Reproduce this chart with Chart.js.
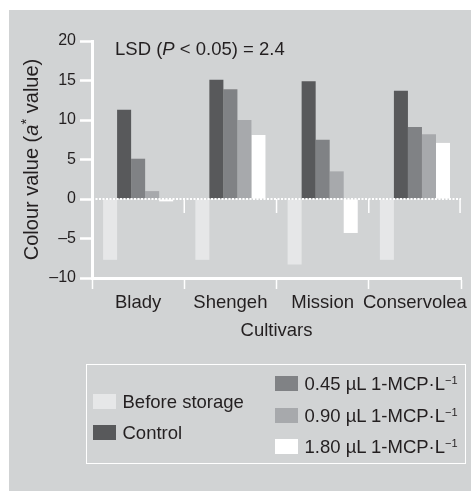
<!DOCTYPE html>
<html>
<head>
<meta charset="utf-8">
<script src="https://cdn.jsdelivr.net/npm/chart.js@4.4.1/dist/chart.umd.min.js"></script>
<style>
  html, body { margin: 0; padding: 0; background: #fff; }
  #wrap { position: relative; width: 471px; height: 491px; font-family: 'Liberation Sans', Arial, sans-serif; color: #231f20; }
  #chart { position: absolute; left: 0; top: 0; }
  #legend { position: absolute; left: 86px; top: 364px; width: 378px; height: 98px; border: 1.5px solid #fff; }
  .item { position: absolute; display: flex; align-items: center; height: 21px; line-height: 21px; font-size: 18.5px; white-space: nowrap; }
  .sw { width: 23px; height: 15px; margin-right: 7px; flex: none; }
  .item sup { font-size: 11px; line-height: 0; vertical-align: 6px; }
</style>
</head>
<body>
<div id="wrap">
  <canvas id="chart" width="471" height="491"></canvas>
  <div id="legend"></div>
</div>
<script>
// ── data ──────────────────────────────────────────────
const categories = ['Blady', 'Shengeh', 'Mission', 'Conservolea'];
const beforeStorage = [-7.7, -7.7, -8.3, -7.7];
const control       = [11.3, 15.1, 14.9, 13.7];
const mcp045        = [5.1, 13.9, 7.5, 9.1];
const mcp090        = [1.0, 10.0, 3.5, 8.2];
const mcp180        = [-0.3, 8.1, -4.3, 7.1];
const seriesLabels  = ['Before storage', 'Control', '0.45 µL 1-MCP·L', '0.90 µL 1-MCP·L', '1.80 µL 1-MCP·L'];
const yTicks        = [-10, -5, 0, 5, 10, 15, 20];
const lsdText       = ['LSD (', 'P', ' < 0.05) = 2.4'];

// ── styles ────────────────────────────────────────────
const PANEL = '#d1d3d4';
const INK = '#231f20';
const FONT = "'Liberation Sans', Arial, sans-serif";
const SERIES_COLORS = ['#e6e7e8', '#58595b', '#808285', '#a7a9ac', '#ffffff'];

const seriesData = [beforeStorage, control, mcp045, mcp090, mcp180];

// Panel background, dotted zero line, little separators, free text
const panelPlugin = {
  id: 'panel',
  beforeDraw(chart) {
    const c = chart.ctx;
    c.save();
    c.fillStyle = '#fff';
    c.fillRect(0, 0, chart.width, chart.height);
    c.fillStyle = PANEL;
    c.fillRect(9, 10, chart.width - 9, chart.height - 10);
    c.restore();
  },
  afterDatasetsDraw(chart) {
    const { ctx, chartArea, scales: { x, y } } = chart;
    const y0 = y.getPixelForValue(0);
    ctx.save();
    ctx.strokeStyle = '#fff';
    ctx.lineWidth = 2;
    ctx.setLineDash([2, 1.5]);
    ctx.beginPath();
    ctx.moveTo(chartArea.left, y0);
    ctx.lineTo(chartArea.right, y0);
    ctx.stroke();
    ctx.setLineDash([]);
    ctx.lineWidth = 1.5;
    for (let i = 1; i <= categories.length; i++) {
      const px = i < categories.length
        ? (x.getPixelForTick(i - 1) + x.getPixelForTick(i)) / 2
        : chartArea.right - 1;
      ctx.beginPath();
      ctx.moveTo(px, y0);
      ctx.lineTo(px, y0 + 14);
      ctx.stroke();
    }
    ctx.restore();
  },
  afterDraw(chart) {
    const { ctx, chartArea } = chart;
    ctx.save();
    ctx.fillStyle = INK;
    ctx.textBaseline = 'middle';

    // LSD note
    let tx = chartArea.left + 23;
    const ty = chartArea.top + 9;
    const fonts = [`18.5px ${FONT}`, `italic 18.5px ${FONT}`, `18.5px ${FONT}`];
    lsdText.forEach((s, i) => {
      ctx.font = fonts[i];
      ctx.fillText(s, tx, ty);
      tx += ctx.measureText(s).width;
    });

    // y title: Colour value (a* value)
    const parts = [
      { t: 'Colour value (', f: `20px ${FONT}`, dy: 0 },
      { t: 'a', f: `italic 20px ${FONT}`, dy: 0 },
      { t: '*', f: `15px ${FONT}`, dy: -5 },
      { t: ' value)', f: `20px ${FONT}`, dy: 0 },
    ];
    let total = 0;
    parts.forEach(p => { ctx.font = p.f; p.w = ctx.measureText(p.t).width; total += p.w; });
    ctx.translate(32, (chartArea.top + chartArea.bottom) / 2);
    ctx.rotate(-Math.PI / 2);
    let px = -total / 2;
    parts.forEach(p => {
      ctx.font = p.f;
      ctx.fillText(p.t, px, p.dy);
      px += p.w;
    });
    ctx.restore();
  },
};

const chart = new Chart(document.getElementById('chart'), {
  type: 'bar',
  data: {
    labels: categories,
    datasets: seriesData.map((d, i) => ({
      label: seriesLabels[i],
      data: d,
      backgroundColor: SERIES_COLORS[i],
      borderWidth: 0,
      categoryPercentage: 0.76,
      barPercentage: 1.0,
    })),
  },
  options: {
    responsive: false,
    animation: false,
    layout: { padding: { left: 0, right: 9, top: 41, bottom: 145 } },
    plugins: { legend: { display: false }, tooltip: { enabled: false } },
    scales: {
      x: {
        grid: { display: true, drawOnChartArea: false, drawTicks: true, tickLength: 11, tickColor: '#fff', tickWidth: 1.5, offset: true },
        border: { display: true, color: '#fff', width: 3 },
        ticks: { color: INK, font: { family: FONT, size: 18.5 }, padding: 3, maxRotation: 0, autoSkip: false },
        title: { display: true, text: 'Cultivars', color: INK, font: { family: FONT, size: 18.5 }, padding: { top: 4, bottom: 4 } },
        afterFit(scale) { scale.height = 68; },
      },
      y: {
        min: -10, max: 20,
        afterBuildTicks(scale) { scale.ticks = yTicks.map(v => ({ value: v })); },
        grid: { display: true, drawOnChartArea: false, drawTicks: true, tickLength: 12, tickColor: '#fff', tickWidth: 2.5 },
        border: { display: true, color: '#fff', width: 3 },
        ticks: {
          color: INK, font: { family: FONT, size: 16 }, padding: 4,
          callback: (v) => (v < 0 ? '\u2013' + Math.abs(v) : String(v)),
        },
        afterFit(scale) { scale.width = 92; },
      },
    },
  },
  plugins: [panelPlugin],
});

// HTML legend: two columns like the original figure
const legendSlots = [
  { left: 5.5, top: 25.5 }, { left: 5.5, top: 56.5 },
  { left: 187.5, top: 7.5 }, { left: 187.5, top: 40 }, { left: 187.5, top: 71 },
];
const legendEl = document.getElementById('legend');
chart.data.datasets.forEach((ds, i) => {
  const item = document.createElement('div');
  item.className = 'item';
  item.style.left = legendSlots[i].left + 'px';
  item.style.top = legendSlots[i].top + 'px';
  const sw = document.createElement('span');
  sw.className = 'sw';
  sw.style.background = ds.backgroundColor;
  item.appendChild(sw);
  const txt = document.createElement('span');
  txt.textContent = ds.label;
  if (i >= 2) {
    const sup = document.createElement('sup');
    sup.textContent = '\u22121';
    txt.appendChild(sup);
  }
  item.appendChild(txt);
  legendEl.appendChild(item);
});
</script>
</body>
</html>
